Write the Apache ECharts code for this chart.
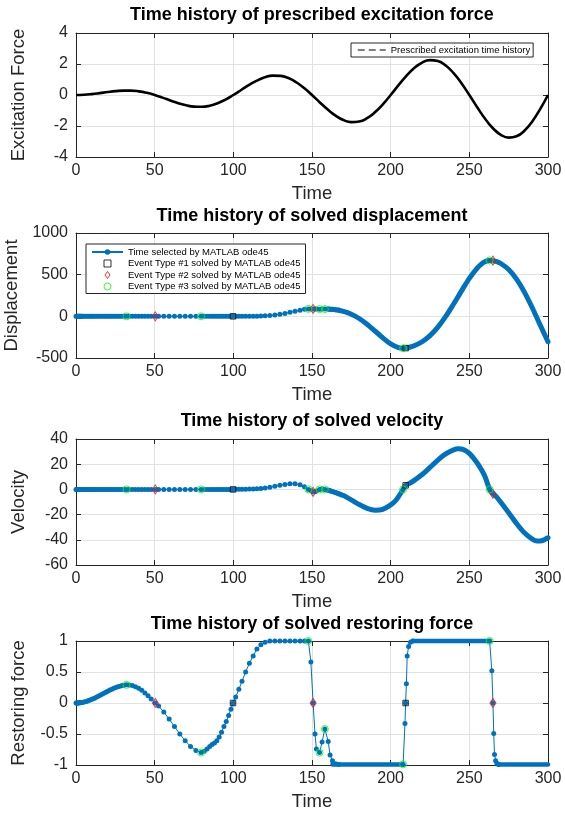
<!DOCTYPE html>
<html>
<head>
<meta charset="utf-8">
<script src="https://cdn.jsdelivr.net/npm/echarts@6/dist/echarts.min.js"></script>
<style>
html,body{margin:0;padding:0;background:#fff;}
#chart{width:565px;height:814px;}
</style>
</head>
<body>
<div id="chart"></div>
<script>
// ---------- Data ----------
// Plot 1: prescribed excitation force
const FT = [0,5,10,15,20,25,30,35,40,45,50,55,60,65,70,75,80,85,90,95,100,105,110,115,120,125,130,135,140,145,150,155,160,165,170,175,180,185,190,195,200,205,210,215,220,225,230,235,240,245,250,255,260,265,270,275,280,285,290,295,300];
const FV = [0,0.015,0.059,0.121,0.19,0.25,0.285,0.283,0.235,0.139,0,-0.17,-0.353,-0.526,-0.666,-0.75,-0.761,-0.688,-0.529,-0.294,0,0.324,0.647,0.93,1.141,1.25,1.236,1.092,0.823,0.448,0,-0.479,-0.941,-1.335,-1.617,-1.75,-1.712,-1.497,-1.117,-0.603,0,0.633,1.235,1.739,2.092,2.25,2.187,1.901,1.411,0.757,0,-0.788,-1.529,-2.144,-2.568,-2.75,-2.663,-2.306,-1.705,-0.912,0];

// ode45 time steps (sparse part, visible dots)
const T1 = [0,0.4,0.8,1.2,1.6,2,2.5,3,3.5,4,5,6,7,8,9,10,11,12,13.2,14.4,15.6,16.8,18,19.2,20.4,21.6,22.8,24,25.3,26.6,27.9,29.2,30.5,32.1,
  33.8,35.8,37.8,39.8,41.8,43.8,45.8,47.8,50.4,
  52.5,55.8,59.2,62.6,66,69.4,72.8,76.2,79.5,
  81.5,83.3,85,86.5,88,89.5,91,92.5,94,95.5,97,98.5,99.8,
  101.5,103.5,105.5,107.8,110.2,112.6,115,117.5,120.2,
  123.2,126.4,129.6,132.8,136,139.2,142.4,145.2,147.7,
  149.3,150.7,151.9,152.8,154.8,156.4,158.2,160.3,161.5,163,165,167];
const D1 = [0,0,0,0,0,0,0,0,0,0,0,0,0,0,0,0,0,0,0,0,0,0,0,0,0,0,0,0,0,0,0,0,0,0,
  0,0,0,0,0,0,0,0,0,
  0,0,0,0,0,0,0,0,0,
  0,0,0,0,0,0,0,0,0,0,0,0,0,
  0.1,0.2,0.3,0.6,1,1.6,2.5,3.8,5.8,
  9.5,15.5,24,35,48.5,62,74.5,84,89,
  89.5,89,88,87.2,86.5,86.8,87,86.6,85.8,84,80.5,75];
const V1 = [0,0,0,0,0,0,0,0,0,0,0,0,0,0,0,0,0,0,0,0,0,0,0,0,0,0,0,0,0,0,0,0,0,0,
  0,0,0,0,0,0,0,0,0,
  0,0,0,0,0,0,0,0,0,
  0,0,0,0,0,0,0,0,0,0,0,0,0,
  0.05,0.07,0.1,0.15,0.25,0.35,0.5,0.8,1.2,
  1.8,2.5,3.2,3.9,4.4,4.4,3.6,2.2,0,
  -1,-1.9,-1.8,-1.2,0,0.4,0,-0.6,-1,-1.6,-2.5,-3.4];
const R1 = [0,0,0,0.001,0.002,0.003,0.004,0.006,0.008,0.01,0.015,0.022,0.03,0.039,0.049,0.059,0.07,0.082,0.098,0.114,0.131,0.147,0.163,0.179,0.195,0.209,0.223,0.237,0.25,0.262,0.272,0.281,0.287,0.293,
  0.29,0.281,0.264,0.239,0.205,0.163,0.116,0.064,0,
  -0.05,-0.145,-0.26,-0.38,-0.5,-0.61,-0.7,-0.765,-0.8,
  -0.78,-0.74,-0.7,-0.67,-0.645,-0.61,-0.55,-0.47,-0.38,-0.3,-0.2,-0.1,0,
  0.095,0.22,0.35,0.5,0.64,0.76,0.87,0.94,0.98,
  1,1,1,1,1,1,1,1,1,
  0.66,0,-0.5,-0.74,-0.8,-0.63,-0.42,-0.62,-0.84,-0.93,-0.98,-0.99];
// restoring force jumps (visible dots)
const T2 = [207.9,209.1,209.5,210,210.5,211.4,212.6,214];
const R2 = [-0.99,-0.33,0,0.31,0.76,0.91,0.98,1];
const T3 = [262.9,264.3,265,265.5,266,266.7,267.5,268.5];
const R3 = [1,0.52,0,-0.49,-0.83,-0.93,-0.97,-0.99];
// restoring force plateaus (dense ode45 steps)
const PS = [163,214,268.5];
const PE = [207.9,262.9,300];
const PL = [-0.99,1,-0.99];

// dense ode45 steps: displacement
const DT = [160,165,170,175,180,185,190,195,200,205,207.9,209.5,212,215,220,225,230,235,240,243,246,250,255,258,260,262.9,265,267,270,275,280,285,290,293,296,300];
const DD = [86.6,79,60,26,-26,-95,-176,-258,-330,-376,-384,-381,-371,-353,-305,-232,-130,-1,148,241,336,456,579,632,657,671,668,659,634,561,446,290,103,-20,-144,-305];
// dense ode45 steps: velocity
const VT = [160,165,170,175,180,185,190,195,200,203,205,207.9,209.5,212,215,220,225,230,235,240,243,246,250,255,258,260,262.9,265,267,270,275,280,285,290,293,296,300];
const VD = [-0.5,-2.5,-4.9,-8.3,-12,-15,-16.5,-15.8,-12.3,-9.1,-5.7,0,3.2,4.8,7.2,11.8,17.5,23.3,28.2,31.4,32.2,31.8,28.6,21,15,10,0,-3.5,-5.5,-10.2,-18.5,-27,-34.4,-39.4,-41,-40.8,-38.4];

// events
const E1T = [99.8,209.5];
const E2T = [50.4,150.7,265];
const E3T = [32.1,79.5,147.7,154.8,158.2,207.9,262.9];
const E1D = [0,-381];
const E2D = [0,89,668];
const E3D = [0,0,89,86.5,87,-384,671];
const E1V = [0,3.2];
const E2V = [0,-1.9,-3.5];
const E3V = [0,0,0,0,0,0,0];
const E1R = [0,0];
const E2R = [0,0,0];
const E3R = [0.293,-0.8,1,-0.8,-0.42,-0.99,1];

// axes
const X_TICKS = {min:0, max:300, interval:50};
const Y_RANGES = [
  {min:-4, max:4, interval:2},
  {min:-500, max:1000, interval:500},
  {min:-60, max:40, interval:20},
  {min:-1, max:1, interval:0.5}
];
const TITLES = ['Time history of prescribed excitation force','Time history of solved displacement','Time history of solved velocity','Time history of solved restoring force'];
const YNAMES = ['Excitation Force','Displacement','Velocity','Restoring force'];
const XNAME = 'Time';
const N_ODE = 'Time selected by MATLAB ode45';
const N_E1 = 'Event Type #1 solved by MATLAB ode45';
const N_E2 = 'Event Type #2 solved by MATLAB ode45';
const N_E3 = 'Event Type #3 solved by MATLAB ode45';
const N_F = 'Prescribed excitation time history';

// ---------- Chart ----------
const FONT = 'Liberation Sans, Arial, Helvetica, sans-serif';
const AX = '#262626';
const BLUE = '#0072BD';
const zip = (a,b) => a.map((t,i)=>[t,b[i]]);
const plain = v => String(v);

const GRIDS = [
  {left:76, top:33, width:472, height:124},
  {left:76, top:233, width:472, height:125},
  {left:76, top:439, width:472, height:126},
  {left:76, top:641, width:472, height:124}
];
const TITLE_Y = [15, 216, 421, 624];

const xAxes = [], yAxes = [];
GRIDS.forEach((g,i)=>{
  const common = {type:'value', gridIndex:i, min:X_TICKS.min, max:X_TICKS.max, interval:X_TICKS.interval,
    axisLine:{show:true, onZero:false, lineStyle:{color:AX, width:1}},
    axisTick:{show:true, inside:true, length:5, lineStyle:{color:AX, width:1}}};
  xAxes.push(Object.assign({}, common, {position:'bottom',
    axisLabel:{show:true, fontSize:16, color:AX, margin:6, fontFamily:FONT, formatter:plain},
    splitLine:{show:true, lineStyle:{color:'#e2e2e2', width:1}},
    name:XNAME, nameLocation:'middle', nameGap:27, nameTextStyle:{fontSize:18.5, color:AX, fontFamily:FONT}}));
  xAxes.push(Object.assign({}, common, {position:'top', axisLabel:{show:false}, splitLine:{show:false}}));
  const yr = Y_RANGES[i];
  const ycommon = {type:'value', gridIndex:i, min:yr.min, max:yr.max, interval:yr.interval,
    axisLine:{show:true, onZero:false, lineStyle:{color:AX, width:1}},
    axisTick:{show:true, inside:true, length:5, lineStyle:{color:AX, width:1}}};
  yAxes.push(Object.assign({}, ycommon, {position:'left',
    axisLabel:{show:true, fontSize:16, color:AX, margin:8, fontFamily:FONT, formatter:plain},
    splitLine:{show:true, lineStyle:{color:'#e2e2e2', width:1}},
    name:YNAMES[i], nameLocation:'middle', nameGap:48, nameRotate:90,
    nameTextStyle:{fontSize:18.5, color:AX, fontFamily:FONT}}));
  yAxes.push(Object.assign({}, ycommon, {position:'right', axisLabel:{show:false}, splitLine:{show:false}}));
});

const series = [];
series.push({name:N_F, type:'line', xAxisIndex:0, yAxisIndex:0, data:zip(FT,FV), smooth:true,
  symbol:'none', lineStyle:{color:'#000', width:2.6}, itemStyle:{color:'#000'}, clip:false, z:3});

function odeSeries(i, data){
  return {name:N_ODE, type:'line', xAxisIndex:2*i, yAxisIndex:2*i, data:data,
    symbol:'circle', symbolSize:5, showAllSymbol:true, clip:false,
    lineStyle:{color:BLUE, width:1}, itemStyle:{color:BLUE}, z:3, animation:false};
}
function denseSeries(i, data, w){
  return {name:'dense'+i+'_'+data.length+'_'+data[0][0], type:'line', xAxisIndex:2*i, yAxisIndex:2*i, data:data,
    symbol:'none', smooth:0.25, clip:false,
    lineStyle:{color:BLUE, width:w, cap:'round', join:'round'}, itemStyle:{color:BLUE}, z:3, animation:false};
}
function eventSeries(i, t1,y1,t2,y2,t3,y3){
  return [
    {name:N_E1, type:'scatter', xAxisIndex:2*i, yAxisIndex:2*i, data:zip(t1,y1), symbol:'rect', symbolSize:5.5, clip:false,
      itemStyle:{color:'rgba(0,0,0,0)', borderColor:'#000', borderWidth:1}, z:5},
    {name:N_E2, type:'scatter', xAxisIndex:2*i, yAxisIndex:2*i, data:zip(t2,y2), symbol:'diamond', symbolSize:[6,9], clip:false,
      itemStyle:{color:'rgba(0,0,0,0)', borderColor:'#ff0000', borderWidth:1}, z:5},
    {name:N_E3, type:'scatter', xAxisIndex:2*i, yAxisIndex:2*i, data:zip(t3,y3), symbol:'circle', symbolSize:7, clip:false,
      itemStyle:{color:'rgba(0,0,0,0)', borderColor:'#00ff00', borderWidth:1}, z:5}
  ];
}
// plot 2
series.push(denseSeries(1, zip(DT,DD), 5));
series.push(odeSeries(1, zip(T1,D1)));
series.push(...eventSeries(1, E1T,E1D,E2T,E2D,E3T,E3D));
// plot 3
series.push(denseSeries(2, zip(VT,VD), 5));
series.push(odeSeries(2, zip(T1,V1)));
series.push(...eventSeries(2, E1T,E1V,E2T,E2V,E3T,E3V));
// plot 4
PS.forEach((s,k)=>{ series.push(denseSeries(3, [[s,PL[k]],[PE[k],PL[k]]], 4.5)); });
series.push(odeSeries(3, zip(T1,R1).concat(zip(T2,R2), zip(T3,R3))));
series.push(...eventSeries(3, E1T,E1R,E2T,E2R,E3T,E3R));

const graphic = TITLES.map((t,i)=>({type:'text', x:312, y:TITLE_Y[i], z:10,
  style:{text:t, textAlign:'center', textVerticalAlign:'middle', fill:'#000', font:'bold 18px '+FONT}}));

const ICON_SQ = 'path://M0,0L10,0L10,10L0,10Z';
const ICON_DI = 'path://M5,0L10,7L5,14L0,7Z';
const ICON_CI = 'path://M5,0A5,5,0,1,1,5,10A5,5,0,1,1,5,0Z';

const option = {
  animation:false,
  backgroundColor:'#fff',
  grid: GRIDS.map(g=>Object.assign({show:false, containLabel:false, outerBoundsMode:'none'}, g)),
  xAxis: xAxes,
  yAxis: yAxes,
  legend: [
    {data:[{name:N_F, lineStyle:{color:'#555', width:1.5, type:[7,4]}, itemStyle:{opacity:0}}],
      left:351, top:43, orient:'horizontal', padding:[2,3,2,6], itemWidth:28, itemHeight:8,
      textStyle:{fontSize:9.5, fontFamily:FONT, color:'#000'}, borderColor:AX, borderWidth:1,
      backgroundColor:'#fff', selectedMode:false, z:8},
    {data:[N_ODE,
        {name:N_E1, icon:ICON_SQ, itemStyle:{color:'rgba(0,0,0,0)', borderColor:'#000', borderWidth:1}},
        {name:N_E2, icon:ICON_DI, itemStyle:{color:'rgba(0,0,0,0)', borderColor:'#ff0000', borderWidth:1}},
        {name:N_E3, icon:ICON_CI, itemStyle:{color:'rgba(0,0,0,0)', borderColor:'#00ff00', borderWidth:1}}],
      left:86, top:244, orient:'vertical', padding:[3,5,2,5],
      itemWidth:31, itemHeight:7, itemGap:1.5, symbolKeepAspect:true,
      textStyle:{fontSize:9.5, fontFamily:FONT, color:'#000'}, borderColor:AX, borderWidth:1,
      backgroundColor:'#fff', selectedMode:false, z:8}
  ],
  graphic: graphic,
  series: series
};
const chart = echarts.init(document.getElementById('chart'), null, {renderer:'canvas'});
chart.setOption(option);
</script>
</body>
</html>
